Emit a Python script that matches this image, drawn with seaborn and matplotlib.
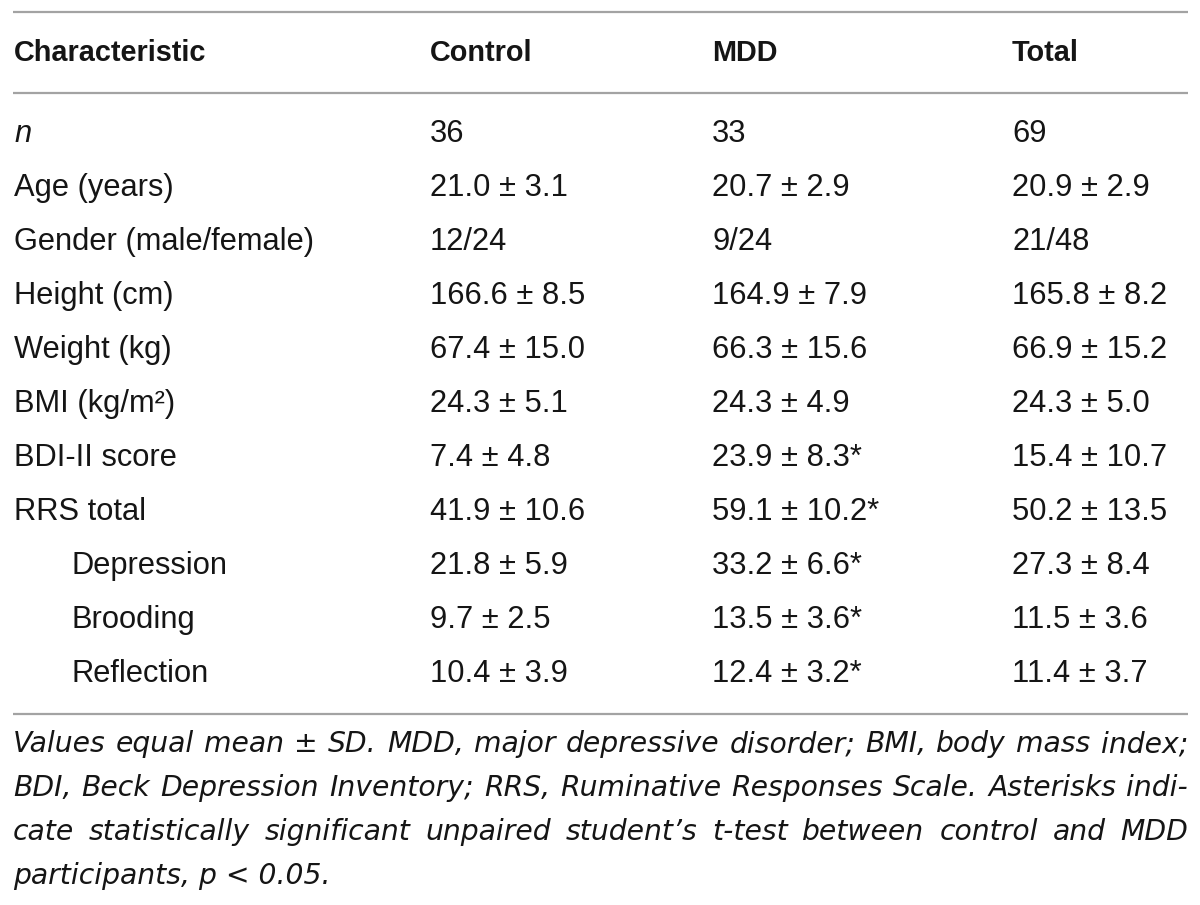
import matplotlib
matplotlib.use("Agg")
import matplotlib.pyplot as plt
import seaborn as sns

sns.set_theme(style="white")
plt.rcParams['font.family'] = ['Liberation Sans', 'DejaVu Sans']

# table content
headers = ['Characteristic', 'Control', 'MDD', 'Total']
labels = ['n', 'Age (years)', 'Gender (male/female)', 'Height (cm)',
          'Weight (kg)', 'BMI (kg/m²)', 'BDI-II score', 'RRS total',
          'Depression', 'Brooding', 'Reflection']
indented = ['Depression', 'Brooding', 'Reflection']
control = ['36', '21.0 ± 3.1', '12/24', '166.6 ± 8.5', '67.4 ± 15.0',
           '24.3 ± 5.1', '7.4 ± 4.8', '41.9 ± 10.6', '21.8 ± 5.9',
           '9.7 ± 2.5', '10.4 ± 3.9']
mdd = ['33', '20.7 ± 2.9', '9/24', '164.9 ± 7.9', '66.3 ± 15.6',
       '24.3 ± 4.9', '23.9 ± 8.3*', '59.1 ± 10.2*', '33.2 ± 6.6*',
       '13.5 ± 3.6*', '12.4 ± 3.2*']
total = ['69', '20.9 ± 2.9', '21/48', '165.8 ± 8.2', '66.9 ± 15.2',
         '24.3 ± 5.0', '15.4 ± 10.7', '50.2 ± 13.5', '27.3 ± 8.4',
         '11.5 ± 3.6', '11.4 ± 3.7']
footnote = [
    'Values equal mean ± SD. MDD, major depressive disorder; BMI, body mass index;',
    'BDI, Beck Depression Inventory; RRS, Ruminative Responses Scale. Asterisks indi-',
    'cate statistically significant unpaired student’s t-test between control and MDD',
    'participants, p < 0.05.',
]

W, H = 1200, 905
fig = plt.figure(figsize=(W / 100, H / 100), dpi=100)
ax = fig.add_axes([0, 0, 1, 1])
ax.set_xlim(0, W)
ax.set_ylim(H, 0)
ax.axis('off')

ink = '#151515'
rule = '#a3a3a3'
left, right = 13, 1188
col_x = [14, 430, 712, 1012]
body_size = 22.2
note_font = ['DejaVu Sans']
note_size = 20.3

# horizontal rules
for y in [12, 93, 714]:
    ax.plot([left, right], [y, y], color=rule, lw=1.6, solid_capstyle='butt')

# header
for x, h in zip(col_x, headers):
    ax.text(x, 53, h, fontsize=20.8, fontweight='bold', color=ink,
            va='center', ha='left')

# body rows
y0, step = 134, 54
for i, lab in enumerate(labels):
    y = y0 + i * step
    x = col_x[0] + (58 if lab in indented else 0)
    style = 'italic' if lab == 'n' else 'normal'
    ax.text(x, y, lab, fontsize=body_size, style=style, color=ink,
            va='center', ha='left')
    for cx, col in zip(col_x[1:], [control, mdd, total]):
        ax.text(cx, y, col[i], fontsize=body_size, color=ink,
                va='center', ha='left')

# footnote, justified like the journal layout
renderer = fig.canvas.get_renderer()
fy0, fstep = 744, 44
for j, line in enumerate(footnote):
    y = fy0 + j * fstep
    words = line.split(' ')
    if j == len(footnote) - 1:
        ax.text(left, y, line, fontsize=note_size, style='italic', color=ink,
                family=note_font, va='center', ha='left')
        continue
    objs = [ax.text(0, y, w, fontsize=note_size, style='italic', color=ink,
                    family=note_font, va='center', ha='left') for w in words]
    widths = [t.get_window_extent(renderer).width for t in objs]
    gap = (right - left - sum(widths)) / (len(words) - 1)
    x = left
    for t, w in zip(objs, widths):
        t.set_x(x)
        x += w + gap

fig.savefig('out.png', dpi=100, facecolor='white')
